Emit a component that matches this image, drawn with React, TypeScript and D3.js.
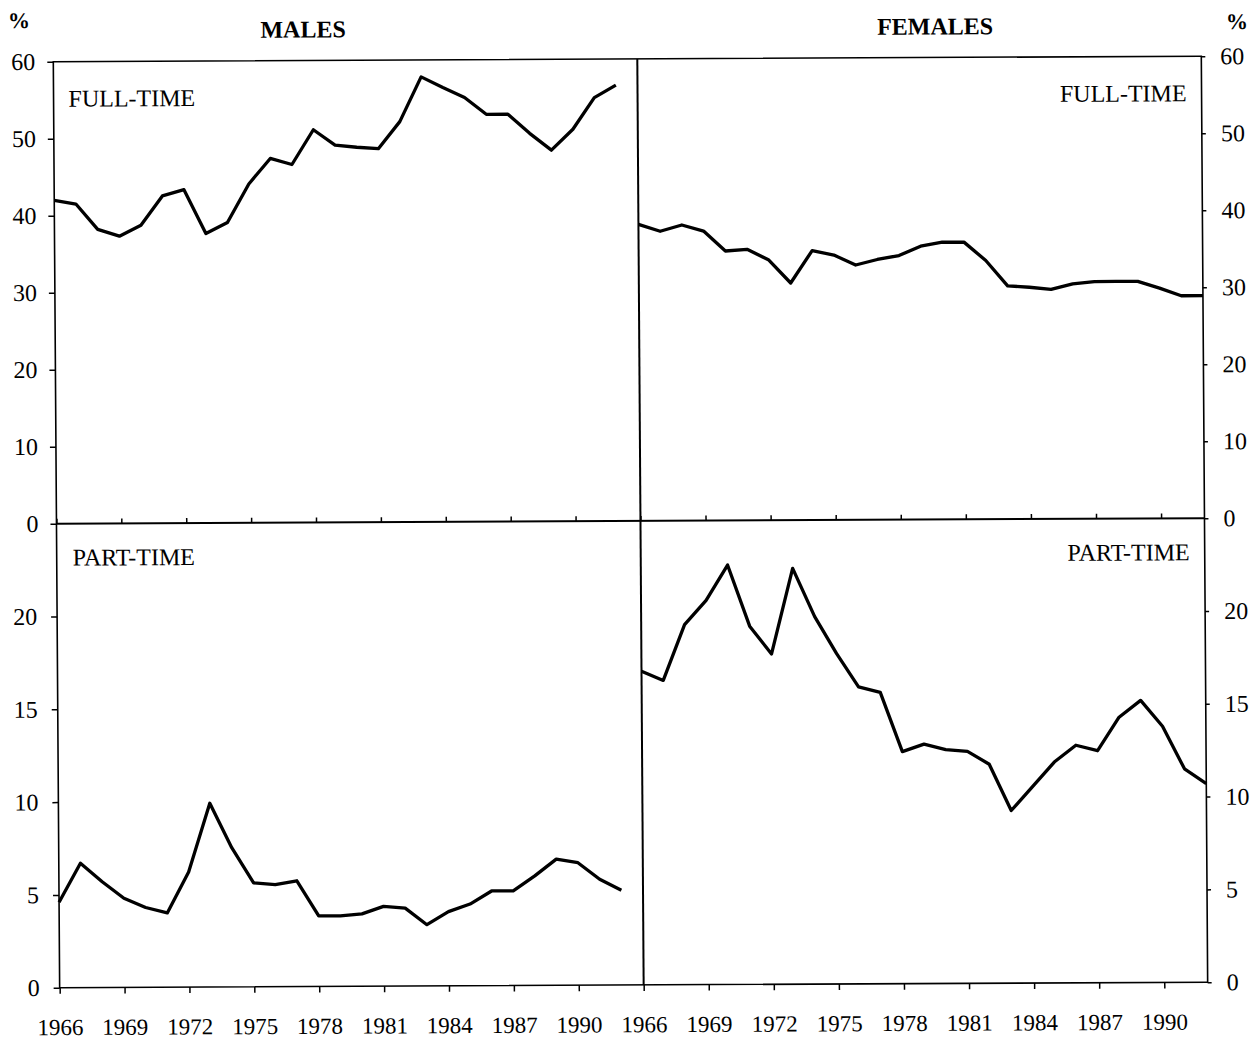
import * as d3 from "d3";
import { useRef, useEffect } from "react";

const years = [1966, 1967, 1968, 1969, 1970, 1971, 1972, 1973, 1974, 1975, 1976, 1977, 1978, 1979, 1980, 1981, 1982, 1983, 1984, 1985, 1986, 1987, 1988, 1989, 1990, 1991, 1992];
const maleFullTime = [42, 41.5, 38.2, 37.3, 38.7, 42.5, 43.3, 37.6, 39, 44, 47.3, 46.5, 51, 49, 48.7, 48.5, 52, 57.8, 56.4, 55.1, 52.9, 52.9, 50.4, 48.2, 50.9, 55, 56.6];
const femaleFullTime = [38.5, 37.6, 38.4, 37.6, 35, 35.2, 33.8, 30.8, 35, 34.4, 33.1, 33.8, 34.3, 35.5, 36, 36, 33.6, 30.3, 30.1, 29.8, 30.5, 30.8, 30.8, 30.8, 29.9, 28.9, 28.9];
const malePartTime = [4.6, 6.7, 5.7, 4.8, 4.3, 4.0, 6.2, 9.9, 7.5, 5.6, 5.5, 5.7, 3.8, 3.8, 3.9, 4.3, 4.2, 3.3, 4.0, 4.4, 5.1, 5.1, 5.9, 6.8, 6.6, 5.7, 5.1];
const femalePartTime = [16.9, 16.4, 19.4, 20.7, 22.6, 19.3, 17.8, 22.4, 19.8, 17.8, 16.0, 15.7, 12.5, 12.9, 12.6, 12.5, 11.8, 9.3, 10.6, 11.9, 12.8, 12.5, 14.3, 15.2, 13.8, 11.5, 10.7];

const yearTicks = [1966, 1969, 1972, 1975, 1978, 1981, 1984, 1987, 1990];
const fullTimeTicks = [0, 10, 20, 30, 40, 50, 60];
const partTimeTicks = [0, 5, 10, 15, 20];

const serif = "Liberation Serif, Times New Roman, serif";

// plot frame in local units; the scan is slightly skewed, so the whole frame gets a matrix
const W = 1148, H = 926, midX = 584, midY = 462;

export default function App() {
  const axes = useRef<SVGGElement>(null);

  const xLeft = d3.scaleLinear([1966, 1993], [0, midX]);
  const xRight = d3.scaleLinear([1966, 1992], [midX, W]);
  const yTop = d3.scaleLinear([0, 60], [midY, 0]);
  const yBottom = d3.scaleLinear([0, 25], [H, midY]);

  const lineOf = (x, y) => d3.line<number>((d, i) => x(years[i]), (d) => y(d));

  useEffect(() => {
    const g = d3.select(axes.current);
    g.selectAll("*").remove();
    const style = (sel, size = 24) => {
      sel.attr("font-family", serif).attr("font-size", size);
      sel.select(".domain").remove();
      sel.selectAll("line").attr("stroke", "#000").attr("stroke-width", 1.5);
      sel.selectAll("text").attr("fill", "#000").attr("font-family", serif).attr("font-size", size);
    };
    g.append("g").call(d3.axisLeft(yTop).tickValues(fullTimeTicks).tickSize(6).tickPadding(12)).call((s) => style(s, 24));
    g.append("g").call(d3.axisLeft(yBottom).tickValues(partTimeTicks).tickSize(6).tickPadding(14)).call((s) => style(s, 24));
    g.append("g").attr("transform", `translate(${W},0)`)
      .call(d3.axisRight(yTop).tickValues(fullTimeTicks).tickSize(4).tickPadding(15)).call((s) => style(s, 24));
    g.append("g").attr("transform", `translate(${W},0)`)
      .call(d3.axisRight(yBottom).tickValues(partTimeTicks).tickSize(4).tickPadding(15)).call((s) => style(s, 24));
    for (const x of [xLeft, xRight]) {
      g.append("g").attr("transform", `translate(0,${midY})`)
        .call(d3.axisTop(x).tickValues(yearTicks).tickSize(5).tickFormat(() => "")).call((s) => style(s, 24));
      g.append("g").attr("transform", `translate(0,${H})`)
        .call(d3.axisBottom(x).tickValues(yearTicks).tickSize(6).tickPadding(25).tickFormat(d3.format("d"))).call((s) => style(s, 23));
    }
  }, []);

  return (
    <svg width={1258} height={1042} style={{ position: "absolute", left: 0, top: 0, background: "#fff" }}>
      <g transform="matrix(1,-0.0048,0.00686,1,53.3,61.7)">
        <text x={-34} y={-34} fontFamily={serif} fontSize={22} fontWeight="bold" textAnchor="middle">%</text>
        <text x={1184} y={-27} fontFamily={serif} fontSize={22} fontWeight="bold" textAnchor="middle">%</text>
        <text x={250} y={-23} fontFamily={serif} fontSize={24} fontWeight="bold" textAnchor="middle">MALES</text>
        <text x={882} y={-23} fontFamily={serif} fontSize={24} fontWeight="bold" textAnchor="middle">FEMALES</text>

        <rect x={0} y={0} width={W} height={H} fill="none" stroke="#000" strokeWidth={1.6} />
        <line x1={midX} x2={midX} y1={0} y2={H} stroke="#000" strokeWidth={2} />
        <line x1={0} x2={W} y1={midY} y2={midY} stroke="#000" strokeWidth={2} />
        <g ref={axes} />

        <g fontFamily={serif} fontSize={24}>
          <text x={15} y={45}>FULL-TIME</text>
          <text x={W - 15} y={45} textAnchor="end">FULL-TIME</text>
          <text x={16} y={504}>PART-TIME</text>
          <text x={W - 15} y={504} textAnchor="end">PART-TIME</text>
        </g>

        <g fill="none" stroke="#000" strokeWidth={3.3} strokeLinejoin="round">
          <path d={lineOf(xLeft, yTop)(maleFullTime)} />
          <path d={lineOf(xRight, yTop)(femaleFullTime)} />
          <path d={lineOf(xLeft, yBottom)(malePartTime)} />
          <path d={lineOf(xRight, yBottom)(femalePartTime)} />
        </g>
      </g>
    </svg>
  );
}
